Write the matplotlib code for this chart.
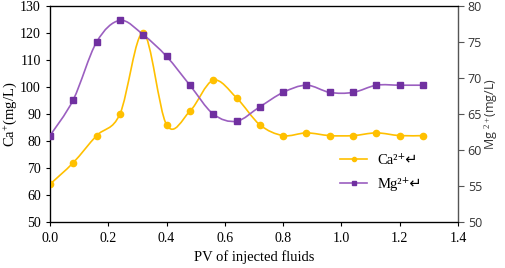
import numpy as np
import matplotlib.pyplot as plt
from matplotlib.path import Path
from matplotlib.patches import PathPatch
from matplotlib.lines import Line2D

pv = [0.00, 0.08, 0.16, 0.24, 0.32, 0.40, 0.48, 0.56, 0.64,
      0.72, 0.80, 0.88, 0.96, 1.04, 1.12, 1.20, 1.28]
ca = [64, 72, 82, 90, 120, 86, 91, 102.5, 96, 86, 82, 83, 82, 82, 83, 82, 82]
mg = [62, 67, 75, 78, 76, 73, 69, 65, 64, 66, 68, 69, 68, 68, 69, 69, 69]
legend_labels = ['Ca\u00b2\u207a\u21b5', 'Mg\u00b2\u207a\u21b5']

CA_COLOR = '#FFC000'
MG_LINE = '#9B5FC0'
MG_MARK = '#7030A0'

plt.rcParams['mathtext.fontset'] = 'custom'
plt.rcParams['mathtext.rm'] = 'Liberation Serif'
plt.rcParams['mathtext.it'] = 'Liberation Serif:italic'


def smooth_path(x, y):
    # Excel-like smoothed line: Catmull-Rom segments as cubic Bezier
    x = np.asarray(x, float)
    y = np.asarray(y, float)
    verts = [(x[0], y[0])]
    codes = [Path.MOVETO]
    n = len(x)
    for i in range(n - 1):
        i0 = max(i - 1, 0)
        i3 = min(i + 2, n - 1)
        c1 = (x[i] + (x[i + 1] - x[i0]) / 6, y[i] + (y[i + 1] - y[i0]) / 6)
        c2 = (x[i + 1] - (x[i3] - x[i]) / 6, y[i + 1] - (y[i3] - y[i]) / 6)
        verts += [c1, c2, (x[i + 1], y[i + 1])]
        codes += [Path.CURVE4] * 3
    return Path(verts, codes)


serif = ['Liberation Serif', 'DejaVu Sans']
sans = ['Open Sans', 'DejaVu Sans']

fig = plt.figure(figsize=(5.05, 2.68), dpi=100)
ax = fig.add_axes([50 / 505, 46 / 268, 408 / 505, 216 / 268])
ax2 = ax.twinx()

ax.add_patch(PathPatch(smooth_path(pv, ca), facecolor='none',
                       edgecolor=CA_COLOR, lw=1.2, zorder=2))
ax.plot(pv, ca, 'o', color=CA_COLOR, ms=4.5, zorder=3)
ax2.add_patch(PathPatch(smooth_path(pv, mg), facecolor='none',
                        edgecolor=MG_LINE, lw=1.2, zorder=2))
ax2.plot(pv, mg, 's', color=MG_MARK, ms=4, zorder=3)

ax.set_xlim(0, 1.4)
ax.set_ylim(50, 130)
ax2.set_ylim(50, 80)
ax.set_xticks(np.arange(0, 1.41, 0.2))
ax.set_xticklabels([f'{v:.1f}' for v in np.arange(0, 1.41, 0.2)])
ax.set_yticks(range(50, 131, 10))
ax2.set_yticks(range(50, 81, 5))

for lab in ax.get_xticklabels() + ax.get_yticklabels():
    lab.set_fontfamily(serif)
    lab.set_fontsize(10)
for lab in ax2.get_yticklabels():
    lab.set_fontfamily(sans)
    lab.set_fontsize(9)
    lab.set_color('#333333')

ax.tick_params(axis='both', direction='out', length=3, width=0.8, colors='black')
ax.tick_params(axis='x', pad=4)
ax2.tick_params(axis='y', direction='out', length=4, width=0.8,
                color='#555555', labelcolor='#333333', pad=3)

for s in ['left', 'bottom', 'top']:
    ax.spines[s].set_linewidth(0.9)
ax2.spines['right'].set_color('#555555')
ax2.spines['right'].set_linewidth(0.9)

ax.set_xlabel('PV of injected fluids', fontfamily=serif, fontsize=10.5, labelpad=4)
ax.set_ylabel('Ca$^{+}$(mg/L)', fontfamily=serif, fontsize=10.5, labelpad=1)
ax2.set_ylabel('Mg $^{2+}$(mg/L)', fontfamily=sans, fontsize=9, labelpad=0,
               color='#333333')

handles = [Line2D([], [], color=CA_COLOR, marker='o', ms=3, lw=1.2),
           Line2D([], [], color=MG_LINE, marker='s', ms=3, lw=1.2,
                  markerfacecolor=MG_MARK, markeredgecolor=MG_MARK)]
leg = ax.legend(handles, legend_labels,
                loc='center left', bbox_to_anchor=(0.71, 0.228),
                frameon=False, handlelength=1.9, handletextpad=0.7,
                labelspacing=0.7, borderpad=0, borderaxespad=0,
                prop={'family': serif, 'size': 10.5})

fig.savefig('out.png', dpi=100)
